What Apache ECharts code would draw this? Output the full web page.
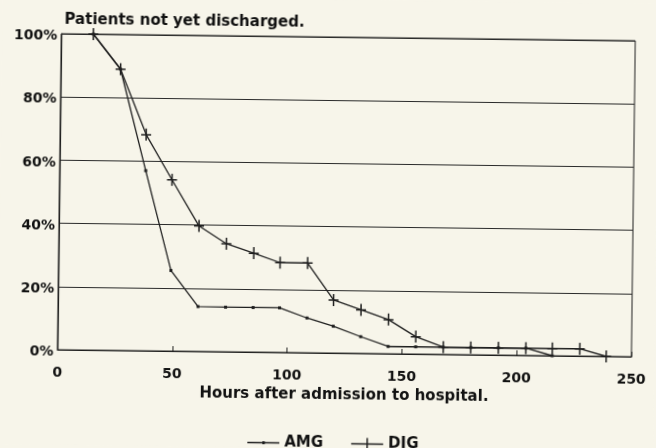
<!DOCTYPE html>
<html>
<head>
<meta charset="utf-8">
<script src="https://cdn.jsdelivr.net/npm/echarts@6/dist/echarts.min.js"></script>
<style>
  html, body { margin: 0; padding: 0; background: #f7f5ea; }
  #chart { width: 656px; height: 448px; transform: rotate(0.7deg); transform-origin: 50% 50%; }
</style>
</head>
<body>
<div id="chart"></div>
<script>
// ---- Data ----
const titleText = 'Patients not yet discharged.';
const xAxisName = 'Hours after admission to hospital.';
const seriesNames = ['AMG', 'DIG'];
const hours = [14, 26, 37.5, 49, 61, 73, 85, 96.5, 108.5, 120, 132, 144, 156, 168, 180, 192, 204, 215.5, 227.5, 239];
const amgValues = [100, 89, 57, 25.5, 14.2, 14.1, 14.1, 14.1, 11, 8.5, 5.3, 2.3, 2.3, 2.3, 2.3, 2.3, 2.3, 0];
const digValues = [100, 89, 68.4, 54.2, 39.7, 34.2, 31.3, 28.4, 28.4, 16.8, 13.8, 10.8, 5.5, 2.3, 2.3, 2.3, 2.3, 2.3, 2.3, 0];
const xTicks = { min: 0, max: 250, interval: 50 };
const yTicks = { min: 0, max: 100, interval: 20 };

function pairs(xs, ys) { return ys.map((v, i) => [xs[i], v]); }

const ink = '#1e1e1e';
const font = 'DejaVu Sans';
const crossPath = 'path://M0,5.3h10v1.5h-10z M4.25,0h1.5v12h-1.5z';
const amgLegendIcon = 'path://M0,5.35h32v1.3h-32z M15,4.5h2.5v3h-2.5z';
const digLegendIcon = 'path://M0,5.35h32v1.3h-32z M15.25,0h1.5v12h-1.5z';

const chart = echarts.init(document.getElementById('chart'), null, { renderer: 'canvas' });
chart.setOption({
  backgroundColor: '#f7f5ea',
  animation: false,
  title: {
    text: titleText,
    left: 62, top: 16, padding: 0,
    textStyle: { fontFamily: font, fontWeight: 'bold', fontSize: 15, color: '#111' }
  },
  legend: {
    data: [
      { name: seriesNames[0], icon: amgLegendIcon },
      { name: seriesNames[1], icon: digLegendIcon }
    ],
    left: 250, top: 436, padding: 0,
    itemWidth: 32, itemHeight: 12, itemGap: 28,
    itemStyle: { color: ink },
    textStyle: { fontFamily: font, fontWeight: 'bold', fontSize: 15, color: '#111' }
  },
  grid: {
    left: 59, top: 37, width: 574, height: 316,
    show: true, borderColor: ink, borderWidth: 1, backgroundColor: 'transparent'
  },
  xAxis: {
    type: 'value', min: xTicks.min, max: xTicks.max, interval: xTicks.interval,
    name: xAxisName, nameLocation: 'middle', nameGap: 33,
    nameTextStyle: { fontFamily: font, fontWeight: 'bold', fontSize: 15, color: '#111' },
    axisLine: { show: true, lineStyle: { color: ink, width: 1.2 } },
    axisTick: { show: true, inside: true, length: 5, lineStyle: { color: ink } },
    axisLabel: { margin: 16, fontFamily: font, fontWeight: 'bold', fontSize: 14, color: '#111' },
    splitLine: { show: false }
  },
  yAxis: {
    type: 'value', min: yTicks.min, max: yTicks.max, interval: yTicks.interval,
    axisLine: { show: true, lineStyle: { color: ink, width: 1.2 } },
    axisTick: { show: false },
    axisLabel: {
      margin: 4, formatter: '{p|{value}%}',
      rich: { p: { padding: [5, 0, 0, 0], fontFamily: font, fontWeight: 'bold', fontSize: 14, color: '#111' } }
    },
    splitLine: { show: true, lineStyle: { color: '#2a2a2a', width: 1 } }
  },
  series: [
    {
      name: seriesNames[0], type: 'line', data: pairs(hours, amgValues),
      symbol: 'rect', symbolSize: [3, 3], showAllSymbol: true,
      lineStyle: { color: ink, width: 1.3 }, itemStyle: { color: ink }
    },
    {
      name: seriesNames[1], type: 'line', data: pairs(hours, digValues),
      symbol: crossPath, symbolSize: [10, 12], showAllSymbol: true,
      lineStyle: { color: ink, width: 1.3 }, itemStyle: { color: ink }
    }
  ]
});
</script>
</body>
</html>
